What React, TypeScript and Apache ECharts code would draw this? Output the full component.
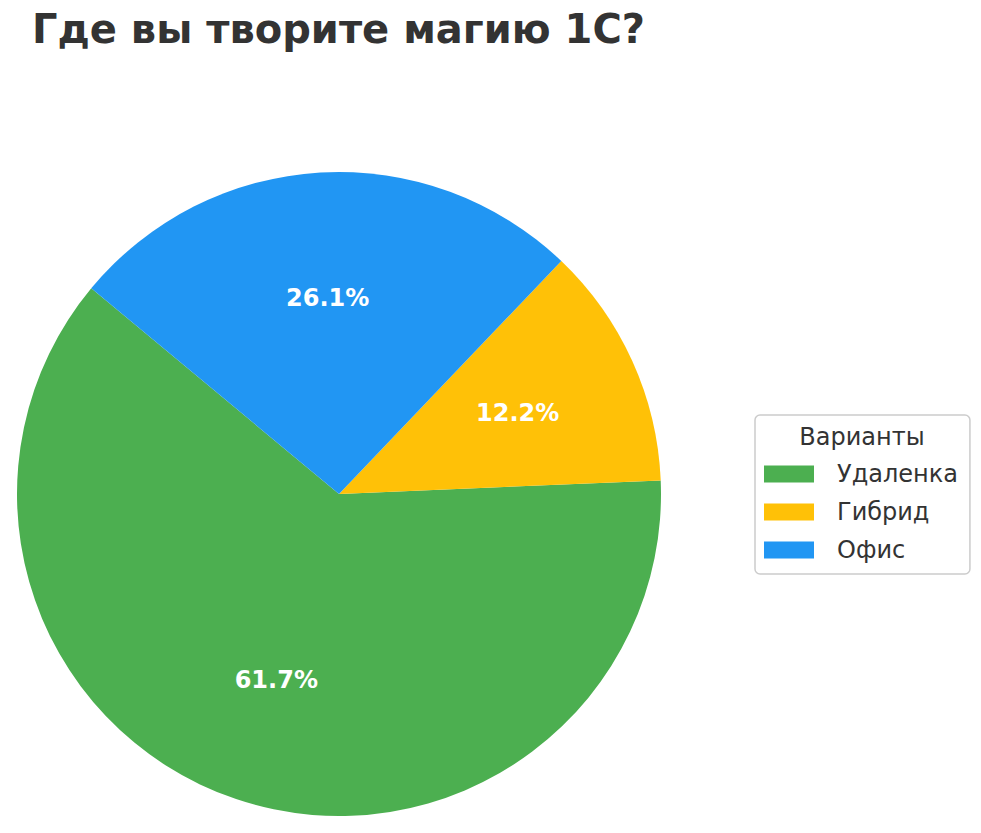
import React, { useEffect, useRef } from 'react';
import * as echarts from 'echarts';

const chartTitle = 'Где вы творите магию 1С?';
const legendTitle = 'Варианты';
const categories = ['Удаленка', 'Гибрид', 'Офис'];
const values = [61.7, 12.2, 26.1];
const colors = ['#4CAF50', '#FFC107', '#2196F3'];

const FONT = 'DejaVu Sans';
const CENTER = [339, 494];
const RADIUS = 322;

const App: React.FC = () => {
  const chartRef = useRef<HTMLDivElement>(null);

  useEffect(() => {
    if (!chartRef.current) return;
    const chart = echarts.init(chartRef.current, undefined, { renderer: 'svg' });

    const pieData = categories.map((name, i) => ({
      name,
      value: values[i],
      itemStyle: { color: colors[i] },
    }));

    chart.setOption({
      animation: false,
      backgroundColor: '#ffffff',
      title: {
        text: chartTitle,
        left: 27,
        top: 4,
        textStyle: { fontFamily: FONT, fontSize: 40, fontWeight: 'bold', color: '#333333' },
      },
      legend: {
        orient: 'vertical',
        left: 755,
        top: 415,
        data: categories,
        icon: 'rect',
        itemWidth: 50,
        itemHeight: 17,
        itemGap: 14,
        padding: [47, 12, 12, 9],
        borderColor: '#cccccc',
        borderWidth: 1.5,
        borderRadius: 5,
        textStyle: {
          fontFamily: FONT,
          fontSize: 24,
          color: '#333333',
          lineHeight: 24,
          padding: [0, 0, 0, 18],
        },
      },
      graphic: [
        {
          type: 'text',
          x: 862,
          y: 437,
          style: {
            text: legendTitle,
            fontFamily: FONT,
            fontSize: 24,
            fill: '#333333',
            textAlign: 'center',
            textVerticalAlign: 'middle',
          },
        },
      ],
      series: [
        {
          type: 'pie',
          center: CENTER,
          radius: [0, RADIUS],
          startAngle: 140.3,
          clockwise: false,
          data: pieData,
          label: { show: false },
          labelLine: { show: false },
          emphasis: { disabled: true },
        },
        {
          // invisible ring so the percent labels sit at 0.6 of the radius
          type: 'pie',
          center: CENTER,
          radius: [0, RADIUS * 1.2],
          startAngle: 140.3,
          clockwise: false,
          silent: true,
          data: categories.map((name, i) => ({
            name,
            value: values[i],
            itemStyle: { color: 'rgba(0,0,0,0)' },
          })),
          label: {
            show: true,
            position: 'inside',
            formatter: (p: any) => `${p.value.toFixed(1)}%`,
            fontFamily: FONT,
            fontSize: 24,
            fontWeight: 'bold',
            color: '#ffffff',
          },
          labelLine: { show: false },
          emphasis: { disabled: true },
        },
      ],
    });

    return () => {
      chart.dispose();
    };
  }, []);

  return (
    <div
      ref={chartRef}
      style={{ position: 'fixed', left: 0, top: 0, width: '981px', height: '833px' }}
    />
  );
};

export default App;
